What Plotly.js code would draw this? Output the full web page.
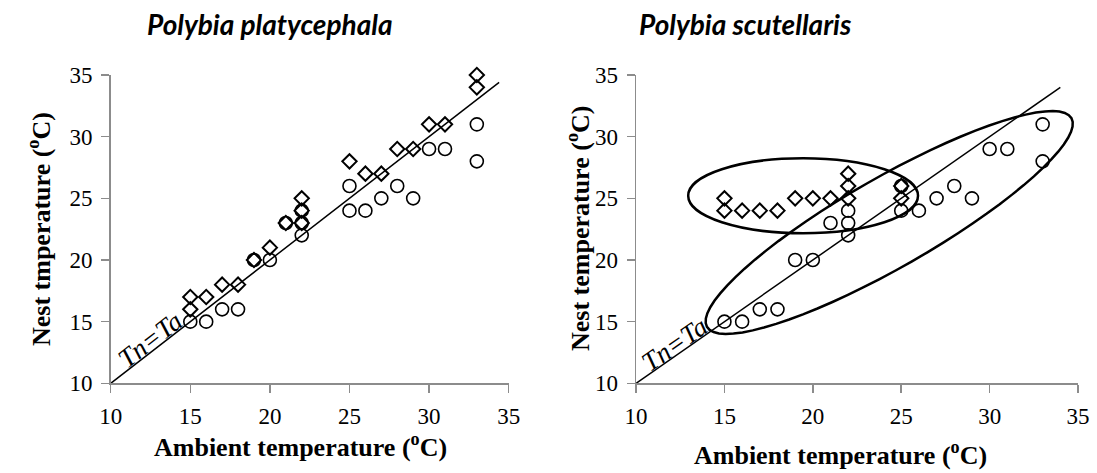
<!DOCTYPE html>
<html><head><meta charset="utf-8">
<script src="https://cdn.plot.ly/plotly-3.0.1.min.js"></script>
<style>html,body{margin:0;padding:0;background:#fff}#chart{width:1097px;height:473px}</style>
</head><body><div id="chart"></div>
<script>
// P. platycephala (left)
const leftDiamondTa = [15,15,16,17,18,19,20,21,22,22,22,25,26,27,28,29,30,31,33,33];
const leftDiamondTn = [17,16,17,18,18,20,21,23,23,24,25,28,27,27,29,29,31,31,35,34];
// circles (shared by both panels)
const circleTa = [15,16,17,18,19,20,21,22,22,22,25,25,26,27,28,29,30,31,33,33];
const circleTn = [15,15,16,16,20,20,23,22,23,24,24,26,24,25,26,25,29,29,31,28];
// P. scutellaris (right)
const rightDiamondTa = [15,15,16,17,18,19,20,21,22,22,22,25,25];
const rightDiamondTn = [25,24,24,24,24,25,25,25,27,26,25,26,25];
// Tn = Ta reference line
const refLineL = [10, 34.4];
const refLineR = [10, 34.0];
const tickVals = [10,15,20,25,30,35];

const W = 1097, H = 473;
const xDomL = [0.1009, 0.4637], xDomR = [0.5798, 0.9827], yDom = [0.1896, 0.8414];

const diamond = {symbol:'diamond-open', size:11, color:'#000', line:{width:2, color:'#000'}};
const circle = {symbol:'circle-open', size:13, color:'#000', line:{width:1.6, color:'#000'}};

const traces = [
  {x:refLineL, y:refLineL, mode:'lines', line:{color:'#000', width:1.5}, xaxis:'x', yaxis:'y', hoverinfo:'skip'},
  {x:leftDiamondTa, y:leftDiamondTn, mode:'markers', marker:diamond, xaxis:'x', yaxis:'y', cliponaxis:false},
  {x:circleTa, y:circleTn, mode:'markers', marker:circle, xaxis:'x', yaxis:'y', cliponaxis:false},
  {x:refLineR, y:refLineR, mode:'lines', line:{color:'#000', width:1.5}, xaxis:'x2', yaxis:'y2', hoverinfo:'skip'},
  {x:rightDiamondTa, y:rightDiamondTn, mode:'markers', marker:diamond, xaxis:'x2', yaxis:'y2', cliponaxis:false},
  {x:circleTa, y:circleTn, mode:'markers', marker:circle, xaxis:'x2', yaxis:'y2', cliponaxis:false}
];

// big tilted ellipse on right panel (defined in screen pixels, converted to data units)
const pxX = (xDomR[1]-xDomR[0])*W/25, pxY = (yDom[1]-yDom[0])*H/25;
function ellipsePath(cx, cy, a, b, angDeg){
  const th = angDeg*Math.PI/180; let p = '';
  for(let i=0;i<=72;i++){
    const t = i/72*2*Math.PI;
    const dx = a*Math.cos(t)*Math.cos(th) - b*Math.sin(t)*Math.sin(th);
    const dy = a*Math.cos(t)*Math.sin(th) + b*Math.sin(t)*Math.cos(th);
    p += (i===0?'M':'L') + (cx+dx/pxX).toFixed(3) + ',' + (cy+dy/pxY).toFixed(3) + ' ';
  }
  return p + 'Z';
}

const axisBase = {range:[10,35], tickvals:tickVals, showline:true, linecolor:'#8c8c8c', linewidth:1.5,
  ticks:'outside', ticklen:8, tickwidth:1.5, tickcolor:'#8c8c8c', showgrid:false, zeroline:false,
  tickfont:{family:'Liberation Serif', size:23, color:'#000'}, ticklabelstandoff:4, fixedrange:true};

const serifBold = {family:'Liberation Serif', size:26, color:'#000', weight:'bold'};
const titleFont = {family:'Lato', size:28, color:'#000', weight:'bold', style:'italic'};
const tnFont = {family:'Liberation Serif', size:27, color:'#000', style:'italic'};

const layout = {
  width:W, height:H, margin:{l:0,r:0,t:0,b:0}, paper_bgcolor:'#fff', plot_bgcolor:'#fff', showlegend:false,
  xaxis: Object.assign({}, axisBase, {domain:xDomL, anchor:'y'}),
  yaxis: Object.assign({}, axisBase, {domain:yDom, anchor:'x'}),
  xaxis2: Object.assign({}, axisBase, {domain:xDomR, anchor:'y2'}),
  yaxis2: Object.assign({}, axisBase, {domain:yDom, anchor:'x2'}),
  shapes:[
    {type:'circle', xref:'x2', yref:'y2', x0:12.95, x1:25.95, y0:22.17, y1:28.25, line:{color:'#000', width:2.5}},
    {type:'path', xref:'x2', yref:'y2', path:ellipsePath(24.32, 23.04, 210, 45, 29.8), line:{color:'#000', width:2.5}}
  ],
  annotations:[
    {xref:'paper', yref:'paper', x:270/W, y:1-24/H, xanchor:'center', yanchor:'middle', text:'Polybia platycephala', showarrow:false, font:titleFont},
    {xref:'paper', yref:'paper', x:745/W, y:1-24/H, xanchor:'center', yanchor:'middle', text:'Polybia scutellaris', showarrow:false, font:titleFont},
    {xref:'paper', yref:'paper', x:300/W, y:1-445/H, xanchor:'center', yanchor:'middle', text:'Ambient temperature (<sup>o</sup>C)', showarrow:false, font:serifBold},
    {xref:'paper', yref:'paper', x:840/W, y:1-453/H, xanchor:'center', yanchor:'middle', text:'Ambient temperature (<sup>o</sup>C)', showarrow:false, font:serifBold},
    {xref:'paper', yref:'paper', x:40/W, y:1-229/H, xanchor:'center', yanchor:'middle', text:'Nest tmperature (<sup>o</sup>C)', textangle:-90, showarrow:false, font:serifBold},
    {xref:'paper', yref:'paper', x:579/W, y:1-229/H, xanchor:'center', yanchor:'middle', text:'Nest temperature (<sup>o</sup>C)', textangle:-90, showarrow:false, font:serifBold},
    {xref:'x', yref:'y', x:12.47, y:13.5, text:'Tn=Ta', textangle:-37.8, showarrow:false, font:tnFont},
    {xref:'x2', yref:'y2', x:12.2, y:13.2, text:'Tn=Ta', textangle:-34.9, showarrow:false, font:tnFont}
  ]
};

Plotly.newPlot('chart', traces, layout, {staticPlot:true, displayModeBar:false});
</script></body></html>
